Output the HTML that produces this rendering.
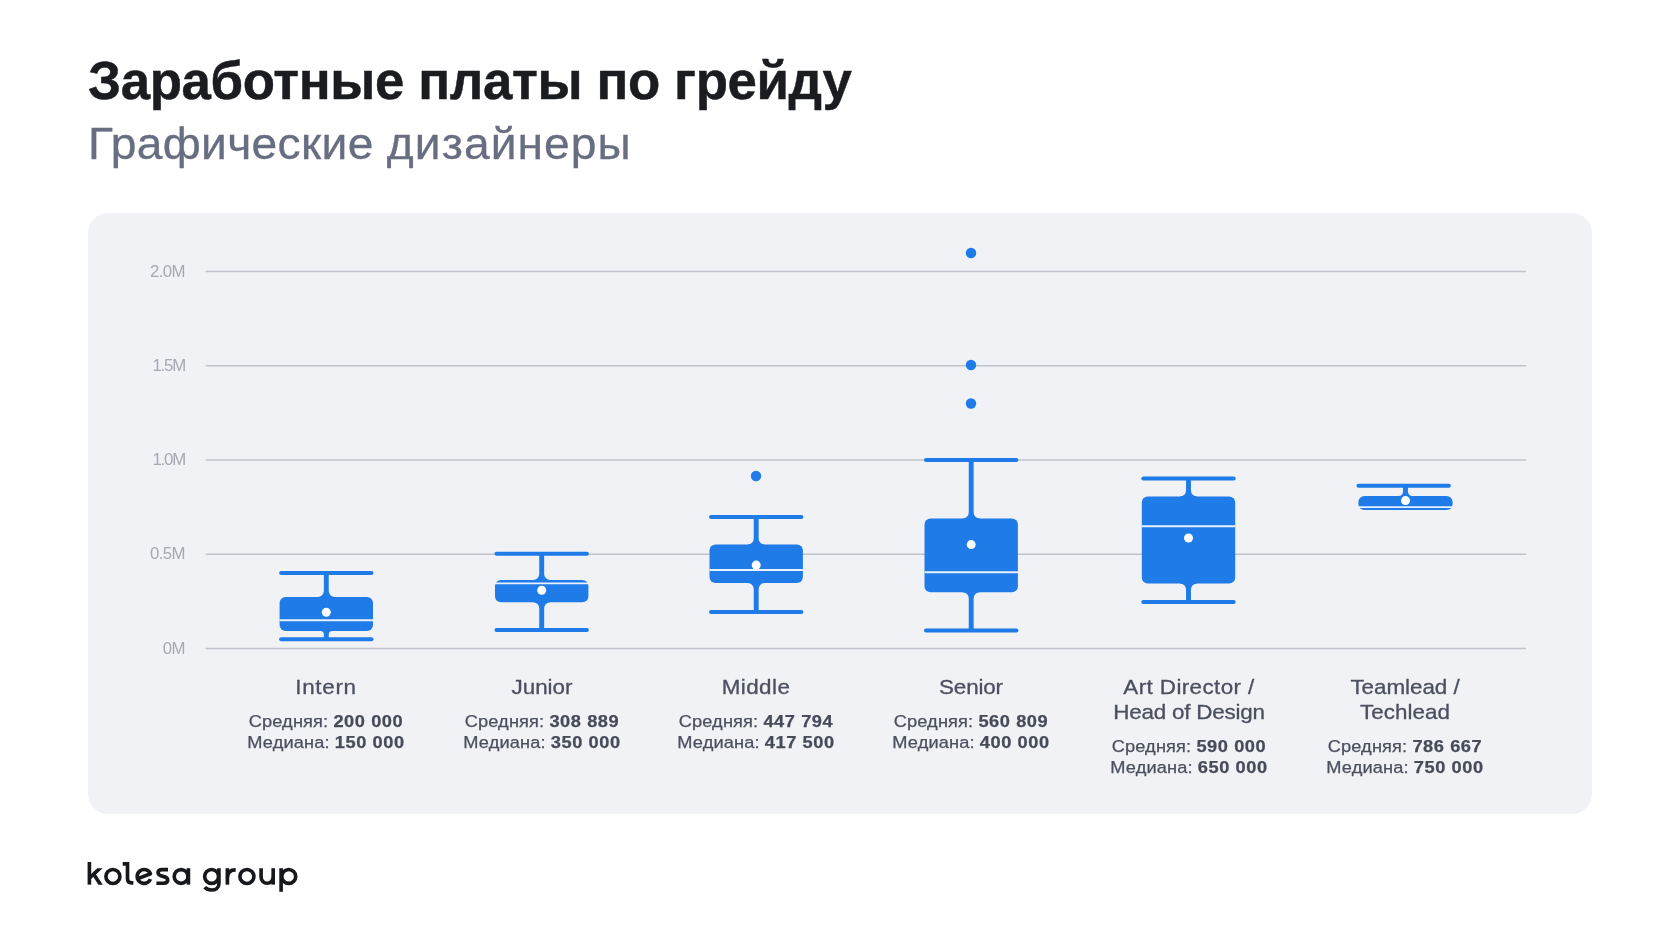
<!DOCTYPE html>
<html lang="ru"><head><meta charset="utf-8"><title>Заработные платы по грейду</title>
<style>
html,body{margin:0;padding:0;}
body{width:1680px;height:945px;position:relative;overflow:hidden;background:#FFFFFF;font-family:"Liberation Sans",sans-serif;}
.abs{position:absolute;white-space:nowrap;transform-origin:0 50%;will-change:transform;}
#title{left:88.3px;top:50.50px;font-size:52.8px;line-height:60px;font-weight:bold;color:#1A1C20;letter-spacing:-0.38px;-webkit-text-stroke:0.45px #1A1C20;}
#sub{left:88.2px;top:117.65px;font-size:44px;line-height:52px;color:#686E81;-webkit-text-stroke:0.3px #686E81;transform:scaleX(1.05);}
#card{position:absolute;left:87.6px;top:213px;width:1504.4px;height:601.3px;border-radius:20px;background:#F0F2F6;}
svg#chart{position:absolute;left:0;top:0;}
.yl{position:absolute;left:85.9px;width:100px;text-align:right;font-size:16.8px;line-height:20px;color:#A5A9B1;white-space:nowrap;will-change:transform;}
.cat{position:absolute;width:320px;text-align:center;font-size:20.4px;line-height:25.2px;color:#4B505E;white-space:nowrap;transform:scaleX(1.1);will-change:transform;-webkit-text-stroke:0.3px #4B505E;}
.st{position:absolute;width:320px;text-align:center;font-size:16.3px;line-height:21.2px;color:#4B505E;white-space:nowrap;transform:scaleX(1.12);letter-spacing:0.1px;will-change:transform;-webkit-text-stroke:0.25px #4B505E;}
.st b{font-weight:bold;color:#464B58;letter-spacing:0.5px;}
#logo{position:absolute;left:0;top:0;}
</style></head>
<body>
<div id="title" class="abs">Заработные платы по грейду</div>
<div id="sub" class="abs"><span style="letter-spacing:0.3px">Графические </span><span style="letter-spacing:1.0px">дизайнеры</span></div>
<div id="card"></div>
<svg id="chart" width="1680" height="945" viewBox="0 0 1680 945">
<line x1="205.7" y1="648.50" x2="1526" y2="648.50" stroke="#C0C3C9" stroke-width="1.35"/>
<line x1="205.7" y1="554.25" x2="1526" y2="554.25" stroke="#C0C3C9" stroke-width="1.35"/>
<line x1="205.7" y1="460.00" x2="1526" y2="460.00" stroke="#C0C3C9" stroke-width="1.35"/>
<line x1="205.7" y1="365.75" x2="1526" y2="365.75" stroke="#C0C3C9" stroke-width="1.35"/>
<line x1="205.7" y1="271.50" x2="1526" y2="271.50" stroke="#C0C3C9" stroke-width="1.35"/>
<rect x="279.60" y="597.10" width="93.40" height="33.80" rx="6.00" ry="6.00" fill="#1E7BE8"/>
<path d="M323.85 573.00 L323.85 591.10 A6.00 6.00 0 0 1 317.85 597.10 L317.85 597.70 L334.75 597.70 L334.75 597.10 A6.00 6.00 0 0 1 328.75 591.10 L328.75 573.00Z" fill="#1E7BE8"/>
<line x1="281.10" y1="573.00" x2="371.50" y2="573.00" stroke="#1E7BE8" stroke-width="4.0" stroke-linecap="round"/>
<path d="M323.85 639.30 L323.85 634.40 A3.50 3.50 0 0 0 320.35 630.90 L320.35 630.30 L332.25 630.30 L332.25 630.90 A3.50 3.50 0 0 0 328.75 634.40 L328.75 639.30Z" fill="#1E7BE8"/>
<line x1="281.10" y1="639.30" x2="371.50" y2="639.30" stroke="#1E7BE8" stroke-width="4.0" stroke-linecap="round"/>
<line x1="279.60" y1="620.30" x2="373.00" y2="620.30" stroke="#E8F2FE" stroke-width="1.9"/>
<circle cx="326.30" cy="612.30" r="4.5" fill="#FFFFFF"/>
<rect x="495.00" y="580.00" width="93.40" height="22.30" rx="6.00" ry="6.00" fill="#1E7BE8"/>
<path d="M539.25 553.70 L539.25 574.00 A6.00 6.00 0 0 1 533.25 580.00 L533.25 580.60 L550.15 580.60 L550.15 580.00 A6.00 6.00 0 0 1 544.15 574.00 L544.15 553.70Z" fill="#1E7BE8"/>
<line x1="496.50" y1="553.70" x2="586.90" y2="553.70" stroke="#1E7BE8" stroke-width="4.0" stroke-linecap="round"/>
<path d="M539.25 630.00 L539.25 608.30 A6.00 6.00 0 0 0 533.25 602.30 L533.25 601.70 L550.15 601.70 L550.15 602.30 A6.00 6.00 0 0 0 544.15 608.30 L544.15 630.00Z" fill="#1E7BE8"/>
<line x1="496.50" y1="630.00" x2="586.90" y2="630.00" stroke="#1E7BE8" stroke-width="4.0" stroke-linecap="round"/>
<line x1="495.00" y1="583.40" x2="588.40" y2="583.40" stroke="#E8F2FE" stroke-width="1.9"/>
<circle cx="541.70" cy="590.30" r="4.5" fill="#FFFFFF"/>
<rect x="709.50" y="544.60" width="93.40" height="38.30" rx="6.00" ry="6.00" fill="#1E7BE8"/>
<path d="M753.75 516.90 L753.75 538.60 A6.00 6.00 0 0 1 747.75 544.60 L747.75 545.20 L764.65 545.20 L764.65 544.60 A6.00 6.00 0 0 1 758.65 538.60 L758.65 516.90Z" fill="#1E7BE8"/>
<line x1="711.00" y1="516.90" x2="801.40" y2="516.90" stroke="#1E7BE8" stroke-width="4.0" stroke-linecap="round"/>
<path d="M753.75 612.00 L753.75 588.90 A6.00 6.00 0 0 0 747.75 582.90 L747.75 582.30 L764.65 582.30 L764.65 582.90 A6.00 6.00 0 0 0 758.65 588.90 L758.65 612.00Z" fill="#1E7BE8"/>
<line x1="711.00" y1="612.00" x2="801.40" y2="612.00" stroke="#1E7BE8" stroke-width="4.0" stroke-linecap="round"/>
<line x1="709.50" y1="570.00" x2="802.90" y2="570.00" stroke="#E8F2FE" stroke-width="1.9"/>
<circle cx="756.20" cy="565.10" r="4.5" fill="#FFFFFF"/>
<circle cx="756.00" cy="476.00" r="5.2" fill="#1E7BE8"/>
<rect x="924.50" y="518.60" width="93.40" height="73.70" rx="6.00" ry="6.00" fill="#1E7BE8"/>
<path d="M968.75 460.00 L968.75 512.60 A6.00 6.00 0 0 1 962.75 518.60 L962.75 519.20 L979.65 519.20 L979.65 518.60 A6.00 6.00 0 0 1 973.65 512.60 L973.65 460.00Z" fill="#1E7BE8"/>
<line x1="926.00" y1="460.00" x2="1016.40" y2="460.00" stroke="#1E7BE8" stroke-width="4.0" stroke-linecap="round"/>
<path d="M968.75 630.60 L968.75 598.30 A6.00 6.00 0 0 0 962.75 592.30 L962.75 591.70 L979.65 591.70 L979.65 592.30 A6.00 6.00 0 0 0 973.65 598.30 L973.65 630.60Z" fill="#1E7BE8"/>
<line x1="926.00" y1="630.60" x2="1016.40" y2="630.60" stroke="#1E7BE8" stroke-width="4.0" stroke-linecap="round"/>
<line x1="924.50" y1="572.30" x2="1017.90" y2="572.30" stroke="#E8F2FE" stroke-width="1.9"/>
<circle cx="971.20" cy="544.60" r="4.5" fill="#FFFFFF"/>
<circle cx="971.00" cy="253.00" r="5.2" fill="#1E7BE8"/>
<circle cx="971.00" cy="365.00" r="5.2" fill="#1E7BE8"/>
<circle cx="971.00" cy="403.50" r="5.2" fill="#1E7BE8"/>
<rect x="1141.80" y="496.60" width="93.40" height="86.80" rx="6.00" ry="6.00" fill="#1E7BE8"/>
<path d="M1186.05 478.60 L1186.05 490.60 A6.00 6.00 0 0 1 1180.05 496.60 L1180.05 497.20 L1196.95 497.20 L1196.95 496.60 A6.00 6.00 0 0 1 1190.95 490.60 L1190.95 478.60Z" fill="#1E7BE8"/>
<line x1="1143.30" y1="478.60" x2="1233.70" y2="478.60" stroke="#1E7BE8" stroke-width="4.0" stroke-linecap="round"/>
<path d="M1186.05 602.00 L1186.05 589.40 A6.00 6.00 0 0 0 1180.05 583.40 L1180.05 582.80 L1196.95 582.80 L1196.95 583.40 A6.00 6.00 0 0 0 1190.95 589.40 L1190.95 602.00Z" fill="#1E7BE8"/>
<line x1="1143.30" y1="602.00" x2="1233.70" y2="602.00" stroke="#1E7BE8" stroke-width="4.0" stroke-linecap="round"/>
<line x1="1141.80" y1="526.30" x2="1235.20" y2="526.30" stroke="#E8F2FE" stroke-width="1.9"/>
<circle cx="1188.50" cy="538.00" r="4.5" fill="#FFFFFF"/>
<rect x="1358.40" y="495.90" width="94.20" height="14.00" rx="6.00" ry="6.00" fill="#1E7BE8"/>
<path d="M1403.05 485.87 L1403.05 491.60 A4.30 4.30 0 0 1 1398.75 495.90 L1398.75 496.50 L1412.25 496.50 L1412.25 495.90 A4.30 4.30 0 0 1 1407.95 491.60 L1407.95 485.87Z" fill="#1E7BE8"/>
<line x1="1358.45" y1="485.87" x2="1448.85" y2="485.87" stroke="#1E7BE8" stroke-width="4.0" stroke-linecap="round"/>
<line x1="1358.40" y1="507.15" x2="1452.60" y2="507.15" stroke="#E8F2FE" stroke-width="1.9"/>
<circle cx="1405.50" cy="500.57" r="4.5" fill="#FFFFFF"/>
</svg>
<div class="yl" style="top:638.68px;letter-spacing:-0.55px;margin-left:-0.55px">0M</div>
<div class="yl" style="top:544.43px;letter-spacing:-0.55px;margin-left:-0.55px">0.5M</div>
<div class="yl" style="top:450.18px;letter-spacing:-1.2px;margin-left:-1.2px">1.0M</div>
<div class="yl" style="top:355.93px;letter-spacing:-1.2px;margin-left:-1.2px">1.5M</div>
<div class="yl" style="top:261.68px;letter-spacing:-0.55px;margin-left:-0.55px">2.0M</div>
<div class="cat" style="left:166.4px;top:674.58px;letter-spacing:0.6px">Intern</div>
<div class="st" style="left:166.4px;top:711.00px">Средняя: <b>200 000</b></div>
<div class="st" style="left:166.4px;top:732.20px">Медиана: <b>150 000</b></div>
<div class="cat" style="left:381.5px;top:674.58px;letter-spacing:0.0px">Junior</div>
<div class="st" style="left:381.5px;top:711.00px">Средняя: <b>308 889</b></div>
<div class="st" style="left:381.5px;top:732.20px">Медиана: <b>350 000</b></div>
<div class="cat" style="left:596.4px;top:674.58px;letter-spacing:0.4px">Middle</div>
<div class="st" style="left:596.4px;top:711.00px">Средняя: <b>447 794</b></div>
<div class="st" style="left:596.4px;top:732.20px">Медиана: <b>417 500</b></div>
<div class="cat" style="left:811.2px;top:674.58px;letter-spacing:-0.15px">Senior</div>
<div class="st" style="left:811.2px;top:711.00px">Средняя: <b>560 809</b></div>
<div class="st" style="left:811.2px;top:732.20px">Медиана: <b>400 000</b></div>
<div class="cat" style="left:1028.7px;top:674.58px;letter-spacing:0.35px">Art Director /</div>
<div class="cat" style="left:1028.7px;top:699.78px;letter-spacing:-0.2px">Head of Design</div>
<div class="st" style="left:1028.7px;top:736.20px">Средняя: <b>590 000</b></div>
<div class="st" style="left:1028.7px;top:757.40px">Медиана: <b>650 000</b></div>
<div class="cat" style="left:1244.6px;top:674.58px;letter-spacing:-0.05px">Teamlead /</div>
<div class="cat" style="left:1244.6px;top:699.78px;letter-spacing:0.05px">Techlead</div>
<div class="st" style="left:1244.6px;top:736.20px">Средняя: <b>786 667</b></div>
<div class="st" style="left:1244.6px;top:757.40px">Медиана: <b>750 000</b></div>
<svg id="logo" style="position:absolute;left:80px;top:855px" width="230" height="45" viewBox="80 855 230 45">
<g fill="none" stroke="#16181B" stroke-width="3.65" stroke-linecap="butt" stroke-linejoin="round">
<!-- k -->
<path d="M89.4 862 V884.65"/>
<path d="M89.4 875.55 L97.32 868.2 L102.68 868.2 L89.4 880.5Z" fill="#16181B" stroke="none"/>
<path d="M92.42 875.52 L95.48 873.52 L102.75 884.65 L98.38 884.65Z" fill="#16181B" stroke="none"/>
<!-- o -->
<circle cx="112.9" cy="876.45" r="7"/>
<!-- l -->
<path d="M122.7 863.83 H127.5 V878.7 Q127.5 882.85 131.6 882.85 H133.4" stroke-linejoin="miter"/>
<!-- e -->
<path d="M137.35 878.85 L150.46 873.77 A6.9 6.9 0 1 0 150.45 879.15"/>
<!-- s -->
<path d="M168 869.55 H162.3 C159.5 869.55 158.05 871 158.05 872.8 C158.05 874.9 159.9 875.75 162.9 876.4 C165.9 877.05 167.7 877.9 167.7 880 C167.7 881.8 166.25 883.25 163.5 883.25 H156.4"/>
<!-- a -->
<circle cx="181.1" cy="876.45" r="6.9"/>
<path d="M188.4 868.2 V884.65"/>
<!-- g -->
<circle cx="211.6" cy="876.45" r="6.95"/>
<path d="M218.9 868.2 V884 C218.9 888 215.5 890 211.5 890 C208.5 890 206.2 889 204.8 887.2"/>
<!-- r -->
<path d="M227.4 868.2 V884.65"/>
<path d="M227.4 877.5 C227.4 872.5 230.5 869.8 235.7 869.8"/>
<!-- o -->
<circle cx="246.9" cy="876.45" r="7"/>
<!-- u -->
<path d="M261.1 868.2 V877.2 A6.05 6.05 0 0 0 273.2 877.2"/>
<path d="M273.2 868.2 V884.65"/>
<!-- p -->
<path d="M281.1 868.2 V891.8"/>
<circle cx="288.75" cy="876.45" r="6.95"/>
</g>
</svg>

</body></html>
